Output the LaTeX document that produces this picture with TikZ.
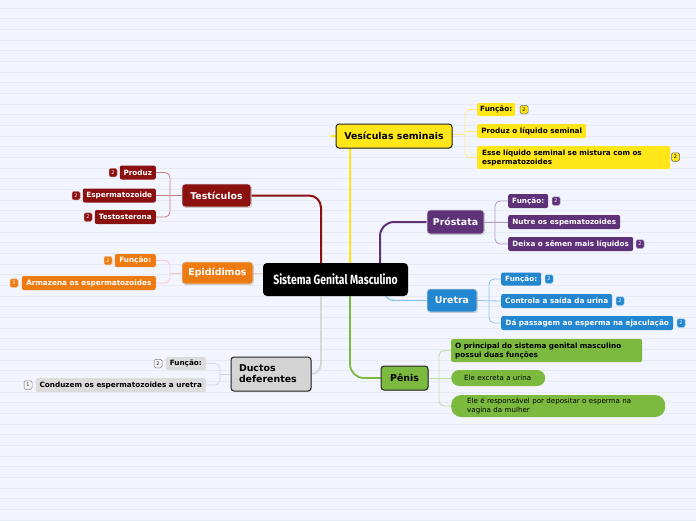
\documentclass[tikz,border=0pt]{standalone}
\usepackage{fontspec}
\setmainfont{DejaVu Sans}
\newfontfamily\condfont[FakeStretch=0.78]{Fira Sans}
\usetikzlibrary{backgrounds,shadows}
\definecolor{paper}{HTML}{F2F5FD}
\definecolor{ruled}{HTML}{E6EAF5}
\definecolor{cRed}{HTML}{8B1010}
\definecolor{cRedL}{HTML}{C98080}
\definecolor{cOra}{HTML}{EE7B11}
\definecolor{cOraL}{HTML}{F6CACA}
\definecolor{cGry}{HTML}{D4D4D4}
\definecolor{cGryL}{HTML}{D8D8D8}
\definecolor{cGryS}{HTML}{DCDCDC}
\definecolor{cYel}{HTML}{FFE619}
\definecolor{cYelL}{HTML}{FFE98A}
\definecolor{cPur}{HTML}{5E3179}
\definecolor{cPurL}{HTML}{B49AC6}
\definecolor{cBlu}{HTML}{2286D0}
\definecolor{cBluL}{HTML}{8EC4EC}
\definecolor{cGrn}{HTML}{7CBA3F}
\definecolor{cGrnL}{HTML}{C3E0A5}
\tikzset{
  mainbox/.style={rounded corners=3pt, draw=white!70!gray, line width=0.8pt,
    font=\fontsize{9.4}{11}\selectfont\bfseries, text=white, inner sep=0pt,
    drop shadow={shadow xshift=0.8pt, shadow yshift=-0.8pt, opacity=0.35}},
  darkbox/.style={mainbox, draw=black!85, line width=1pt, text=black},
  subbox/.style={rounded corners=2pt, font=\fontsize{7.25}{9}\selectfont\bfseries,
    inner sep=0pt, text=white},
  plainbox/.style={subbox, font=\fontsize{7.1}{9}\selectfont},
  badge/.style={rounded corners=1.5pt, minimum width=8pt, minimum height=8.5pt,
    inner sep=0pt, font=\fontsize{5}{5}\selectfont, line width=0.5pt, text=white},
  branch/.style={line width=0.8pt},
}
\begin{document}
\begin{tikzpicture}[x=1pt,y=-1pt]
\useasboundingbox (0,0) rectangle (696,520);

% central
\node[rounded corners=4pt, fill=black, text=white, minimum width=145pt, minimum height=33pt,
  inner sep=0pt, font=\condfont\bfseries\fontsize{13.3}{15}\selectfont] (central) at (335.5,279.5) {Sistema Genital Masculino};

% ---------- Testiculos
\node[mainbox, fill=cRed, minimum width=69pt, minimum height=23pt] (testic) at (216.5,195.5) {Testículos};
\node[subbox, fill=cRed, minimum width=36pt, minimum height=14pt, anchor=east] (produz) at (156,172.5) {Produz};
\node[subbox, fill=cRed, minimum width=73pt, minimum height=14pt, anchor=east] (esperm) at (156,195.5) {Espermatozoide};
\node[subbox, fill=cRed, minimum width=61pt, minimum height=14pt, anchor=east] (testos) at (156,217) {Testosterona};
\node[badge, fill=cRed, draw=cRedL] (bT1) at (113,172.5) {2};
\node[badge, fill=cRed, draw=cRedL] (bT2) at (76,195.5) {2};
\node[badge, fill=cRed, draw=cRedL] (bT3) at (88,217) {2};

% ---------- Epididimos
\node[mainbox, fill=cOra, minimum width=71pt, minimum height=22pt] (epid) at (217.5,273) {Epidídimos};
\node[subbox, fill=cOra, minimum width=41pt, minimum height=13pt, anchor=east] (efun) at (156,260.5) {Função:};
\node[subbox, fill=cOra, minimum width=134pt, minimum height=14pt, anchor=east] (earm) at (156,283) {Armazena os espermatozoides};
\node[badge, fill=cOra, draw=white!50!cOra] (bE1) at (108,260.5) {2};
\node[badge, fill=cOra, draw=white!50!cOra] (bE2) at (14,283) {3};

% ---------- Ductos deferentes
\node[darkbox, fill=cGry, minimum height=34pt, text width=64pt, inner xsep=8pt, align=left] (ductos) at (271,374) {Ductos\\deferentes};
\node[subbox, fill=cGryS, text=black, minimum width=40pt, minimum height=13pt, anchor=east] (dfun) at (206,363.5) {Função:};
\node[subbox, fill=cGryS, text=black, minimum width=170pt, minimum height=14pt, anchor=east] (dcond) at (206,385) {Conduzem os espermatozoides a uretra};
\node[badge, fill=white!92!gray, draw=gray, text=black!80] (bD1) at (158,363.5) {2};
\node[badge, fill=white!92!gray, draw=gray, text=black!80] (bD2) at (28,385) {1};

% ---------- Vesiculas seminais
\node[darkbox, fill=cYel, minimum width=116pt, minimum height=24pt] (vesic) at (394,136) {Vesículas seminais};
\node[subbox, fill=cYel, text=black, minimum width=38pt, minimum height=13pt, anchor=west] (vfun) at (477,109.5) {Função:};
\node[subbox, fill=cYel, text=black, minimum width=109pt, minimum height=14pt, anchor=west] (vprod) at (477,131) {Produz o líquido seminal};
\node[subbox, fill=cYel, text=black, minimum height=23pt, text width=183pt, inner xsep=5pt, align=left, anchor=west] (vesse) at (477,157.5) {Esse líquido seminal se mistura com os\\espermatozoides};
\node[badge, fill=cYel, draw=black!60, text=black] (bV1) at (524,109.5) {2};
\node[badge, fill=cYel, draw=black!60, text=black] (bV2) at (675.5,157) {2};

% ---------- Prostata
\node[mainbox, fill=cPur, minimum width=57pt, minimum height=24pt] (prost) at (455.5,222) {Próstata};
\node[subbox, fill=cPur, minimum width=40pt, minimum height=14pt, anchor=west] (pfun) at (508,201) {Função:};
\node[subbox, fill=cPur, minimum width=112pt, minimum height=14pt, anchor=west] (pnut) at (508,222) {Nutre os espematozoides};
\node[subbox, fill=cPur, minimum width=125pt, minimum height=14pt, anchor=west] (pdei) at (508,244) {Deixa o sêmen mais líquidos};
\node[badge, fill=cPur, draw=cPurL] (bP1) at (556,201) {2};
\node[badge, fill=cPur, draw=cPurL] (bP2) at (640,244) {2};

% ---------- Uretra
\node[mainbox, fill=cBlu, minimum width=50pt, minimum height=23pt] (uretra) at (452,300.5) {Uretra};
\node[subbox, fill=cBlu, minimum width=40pt, minimum height=13pt, anchor=west] (ufun) at (501,279) {Função:};
\node[subbox, fill=cBlu, minimum width=111pt, minimum height=14pt, anchor=west] (ucon) at (501,301) {Controla a saída da urina};
\node[subbox, fill=cBlu, minimum width=172pt, minimum height=14pt, anchor=west] (upas) at (501,323) {Dá passagem ao esperma na ejaculação};
\node[badge, fill=cBlu, draw=cBluL] (bU1) at (549,279) {2};
\node[badge, fill=cBlu, draw=cBluL] (bU2) at (620,301) {2};
\node[badge, fill=cBlu, draw=cBluL] (bU3) at (681,323) {2};

% ---------- Penis
\node[darkbox, fill=cGrn, minimum width=47pt, minimum height=24pt] (penis) at (404.5,378) {Pênis};
\node[subbox, fill=cGrn, text=black, minimum height=23pt, text width=183pt, inner xsep=4pt, align=left, anchor=west] (gprin) at (451,350.5) {O principal do sistema genital masculino\\possui duas funções};
\node[plainbox, fill=cGrn, text=black, rounded corners=8pt, minimum height=16pt, text width=68pt, inner xsep=13pt, align=left, anchor=west] (gexc) at (451,378) {Ele excreta a urina};
\node[plainbox, fill=cGrn, text=black, rounded corners=10pt, minimum height=22pt, text width=182pt, inner xsep=16pt, align=left, anchor=west] (gres) at (451,406) {Ele é responsável por depositar o esperma na\\vagina da mulher};

% ---------- coordinates for connectors
\coordinate (cR) at (321,263);
\coordinate (cY) at (350,263);
\coordinate (cP) at (380,263);
\coordinate (cD) at (321,296);
\coordinate (cG) at (350,296);
\coordinate (cB) at (384,296);
\coordinate (vesL) at (331,136);
\coordinate (tb) at (170,195.5);
\coordinate (eb) at (170,273);
\coordinate (db) at (220,374);
\coordinate (vb) at (465,134);
\coordinate (pb) at (495,222);
\coordinate (ub) at (489,300.5);
\coordinate (gb) at (439,378);

\begin{scope}[on background layer]
  \fill[paper] (0,0) rectangle (696,520);
  \foreach \k in {0,...,48} \draw[ruled, line width=0.7pt] (0,8+10.67*\k) -- (696,8+10.67*\k);
  % main connectors
  \draw[cRed, line width=2pt, rounded corners=12pt] (testic.east) -| (cR);
  \draw[cOraL, line width=1pt] (epid.east) -- (central.west |- epid.east);
  \draw[cGryL, line width=1.8pt, rounded corners=10pt] (cD) |- (ductos.east);
  \draw[cYel, line width=2pt, rounded corners=8pt] (cY) |- (vesL);
  \draw[cPur, line width=2pt, rounded corners=14pt] (cP) |- (prost.west);
  \draw[cBluL, line width=1.3pt, rounded corners=10pt] (cB) |- (uretra.west);
  \draw[cGrn, line width=1.8pt, rounded corners=14pt] (cG) |- (penis.west);
  % brackets
  \draw[branch, cRedL, rounded corners=5pt] (produz.east) -| (tb) |- (testos.east);
  \draw[branch, cRedL] (esperm.east) -- (testic.west);
  \draw[branch, cOraL, rounded corners=5pt] (efun.east) -| (eb) |- (earm.east);
  \draw[branch, cOraL] (eb) -- (epid.west);
  \draw[branch, cGryL, rounded corners=5pt] (dfun.east) -| (db) |- (dcond.east);
  \draw[branch, cGryL] (db) -- (ductos.west);
  \draw[branch, cYelL, rounded corners=5pt] (vfun.west) -| (vb) |- (vesse.west);
  \draw[branch, cYelL] (vesic.east |- vb) -- (vb);
  \draw[branch, cYelL] (vb |- vprod.west) -- (vprod.west);
  \draw[branch, cPurL, rounded corners=5pt] (pfun.west) -| (pb) |- (pdei.west);
  \draw[branch, cPurL] (prost.east) -- (pnut.west);
  \draw[branch, cBluL, rounded corners=5pt] (ufun.west) -| (ub) |- (upas.west);
  \draw[branch, cBluL] (uretra.east) -- (ucon.west);
  \draw[branch, cGrnL, rounded corners=5pt] (gprin.west) -| (gb) |- (gres.west);
  \draw[branch, cGrnL] (penis.east) -- (gexc.west);
\end{scope}
\end{tikzpicture}
\end{document}
